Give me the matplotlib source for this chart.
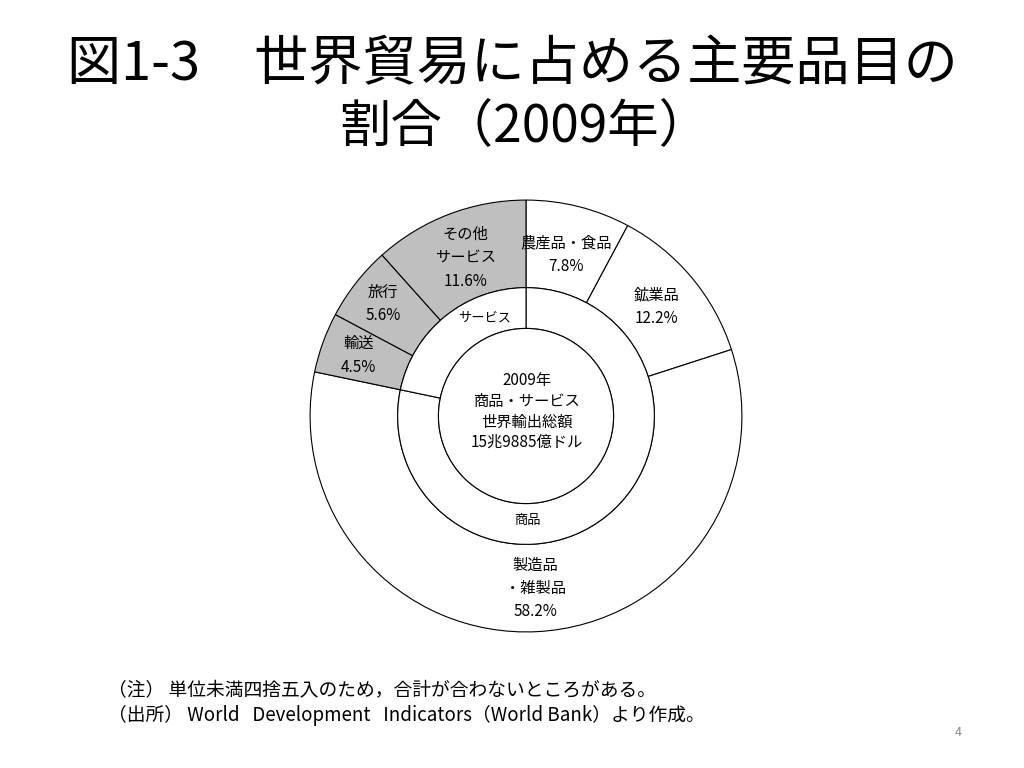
import numpy as np
import matplotlib
matplotlib.use("Agg")
import matplotlib.pyplot as plt

plt.rcParams['font.family'] = ['Noto Sans CJK JP', 'DejaVu Sans']

# Data
outer_labels = ["農産品・食品", "鉱業品", "製造品\n・雑製品", "輸送", "旅行", "その他\nサービス"]
outer_values = [7.8, 12.2, 58.2, 4.5, 5.6, 11.6]
outer_kind = ["goods", "goods", "goods", "service", "service", "service"]
inner_labels = ["商品", "サービス"]
inner_values = [78.2, 21.7]

title_lines = ["図1-3　世界貿易に占める主要品目の", "割合（2009年）"]
center_text = "2009年\n商品・サービス\n世界輸出総額\n15兆9885億ドル"
note1 = "（注） 単位未満四捨五入のため，合計が合わないところがある。"
note2 = "（出所） World   Development   Indicators（World Bank）より作成。"

GRAY = "#bfbfbf"
fig = plt.figure(figsize=(10.24, 7.68), dpi=100)
R = 217
cx, cy = 526, 416
ax = fig.add_axes([(cx - R) / 1024, (768 - cy - R) / 768, 2 * R / 1024, 2 * R / 768])

mid_r = 129 / 217
hole_r = 88 / 217

colors = [GRAY if k == "service" else "white" for k in outer_kind]
wedges, _ = ax.pie(outer_values, radius=1.0, startangle=90, counterclock=False,
                   colors=colors,
                   wedgeprops=dict(width=1.0 - mid_r, edgecolor="black", linewidth=0.8))
iw, _ = ax.pie(inner_values, radius=mid_r, startangle=90, counterclock=False,
               colors=["white", "white"],
               wedgeprops=dict(width=mid_r - hole_r, edgecolor="black", linewidth=0.8))
ax.add_patch(plt.Circle((0, 0), hole_r, facecolor="white", edgecolor="black", linewidth=0.8))

ax.set_xlim(-1.005, 1.005)
ax.set_ylim(-1.005, 1.005)
ax.set_aspect("equal")
ax.axis("off")

label_r = [0.77, 0.79, 0.80, 0.825, 0.84, 0.785]
for w, lab, val, r in zip(wedges, outer_labels, outer_values, label_r):
    ang = np.deg2rad((w.theta1 + w.theta2) / 2)
    x, y = r * np.cos(ang), r * np.sin(ang)
    ax.text(x, y, f"{lab}\n{val}%", ha="center", va="center", fontsize=11,
            linespacing=1.5)

# inner ring labels (placed as in reference)
ax.text(-0.19, 0.455, inner_labels[1], ha="center", va="center", fontsize=9.5)
ax.text(0.005, -0.484, inner_labels[0], ha="center", va="center", fontsize=9.5)

ax.text(0.005, 0.02, center_text, ha="center", va="center", fontsize=11,
        linespacing=1.28)

fig.text(0.5, 1 - 65 / 768, title_lines[0], ha="center", va="center", fontsize=39)
fig.text(0.512, 1 - 127 / 768, title_lines[1], ha="center", va="center", fontsize=37)

fig.text(108 / 1024, 1 - 691 / 768, note1, ha="left", va="center", fontsize=13.5)
fig.text(108 / 1024, 1 - 715 / 768, note2, ha="left", va="center", fontsize=13.5)
fig.text(958 / 1024, 1 - 733 / 768, "4", ha="center", va="center", fontsize=9, color="#888888")

fig.savefig("out.png", dpi=100)
